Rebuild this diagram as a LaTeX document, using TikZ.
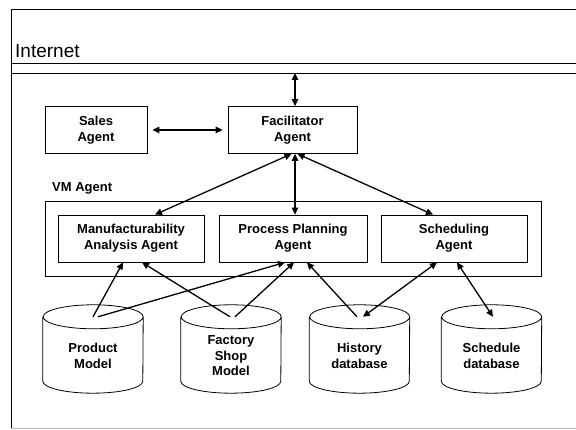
\documentclass[tikz,border=0pt]{standalone}
\usepackage{fontspec}
\setmainfont{Liberation Sans}
\usetikzlibrary{arrows.meta}
\begin{document}
\begin{tikzpicture}[x=1pt,y=1pt,
  box/.style={draw, line width=0.8pt, minimum height=47pt, align=center,
    font=\fontsize{13}{16}\selectfont\bfseries, inner sep=0pt},
  txt/.style={align=center, font=\fontsize{13}{15.5}\selectfont\bfseries, inner sep=0pt},
  ghost/.style={minimum width=100pt, minimum height=88pt, inner sep=0pt},
  cyl/.style={line width=0.8pt},
  tip/.tip={Triangle[length=7pt,width=6.5pt]},
  dbl/.style={line width=1.3pt, tip-tip},
  one/.style={line width=1.3pt, -tip},
  frame/.style={line width=0.9pt}]
\useasboundingbox (0,0) rectangle (576,430);
% frame and Internet band
\draw[frame] (590,421) -- (11,421) -- (11,2);
\draw[line width=0.8pt, gray!55] (11,2) -- (590,2);
\draw[frame] (11,367) -- (590,367);
\draw[frame] (11,357) -- (590,357);
\node[anchor=base west, font=\fontsize{19}{22}\selectfont, inner sep=0pt] (inettext) at (15,372) {Internet};
\coordinate (inet) at (295,357);
% top agents
\node[box, minimum width=102pt] (sales) at (96,300) {Sales\\Agent};
\node[box, minimum width=129pt] (fac) at (292.5,300) {Facilitator\\Agent};
% VM agent group
\node[anchor=base west, font=\fontsize{13}{15}\selectfont\bfseries, inner sep=0pt] (vmlabel) at (52,238) {VM Agent};
\node[draw, line width=0.8pt, minimum width=496pt, minimum height=75pt, inner sep=0pt] (vm) at (293,191.5) {};
\node[box, minimum width=146pt] (manuf) at (131,191.5) {Manufacturability\\Analysis Agent};
\node[box, minimum width=148pt] (pp) at (293,191.5) {Process Planning\\Agent};
\node[box, minimum width=146pt] (sched) at (454,191.5) {Scheduling\\Agent};
% databases
\node[ghost] (prod) at (93,81) {};
\node[ghost] (fact) at (231,81) {};
\node[ghost] (hist) at (359.5,81) {};
\node[ghost] (schd) at (491.5,81) {};
\foreach \n in {prod,fact,hist,schd}{
  \draw[cyl] ([yshift=-12pt]\n.north west) -- ([yshift=12pt]\n.south west)
    arc[start angle=180, end angle=360, x radius=50pt, y radius=12pt]
    -- ([yshift=-12pt]\n.north east)
    arc[start angle=0, end angle=360, x radius=50pt, y radius=12pt];
}
\node[txt] (prodtxt) at (93,74) {Product\\Model};
\node[txt] (facttxt) at (231,74) {Factory\\Shop\\Model};
\node[txt] (histtxt) at (359.5,74) {History\\database};
\node[txt] (schdtxt) at (491.5,74) {Schedule\\database};
% connectors
\draw[dbl] (inet) -- ([xshift=2.5pt]fac.north);
\draw[dbl] ([xshift=5pt]sales.east) -- ([xshift=-5pt]fac.west);
\draw[dbl] ([xshift=-1pt]fac.south) -- ([xshift=24pt]manuf.north);
\draw[dbl] ([xshift=2.5pt]fac.south) -- ([xshift=2pt]pp.north);
\draw[dbl] ([xshift=5pt]fac.south) -- ([xshift=-21pt]sched.north);
\draw[one] ([shift={(0pt,-12pt)}]prod.north) -- ([xshift=-8pt]manuf.south);
\draw[one] ([shift={(5pt,-12pt)}]prod.north) -- ([xshift=-8pt]pp.south);
\draw[one] ([shift={(-1pt,-12pt)}]fact.north) -- ([xshift=11pt]manuf.south);
\draw[one] ([shift={(4pt,-12pt)}]fact.north) -- ([xshift=1pt]pp.south);
\draw[one] ([shift={(-2.5pt,-12pt)}]hist.north) -- ([xshift=14pt]pp.south);
\draw[dbl] ([shift={(3.5pt,-12pt)}]hist.north) -- ([xshift=-17pt]sched.south);
\draw[dbl] ([shift={(1.5pt,-12pt)}]schd.north) -- ([xshift=3pt]sched.south);
\end{tikzpicture}
\end{document}
